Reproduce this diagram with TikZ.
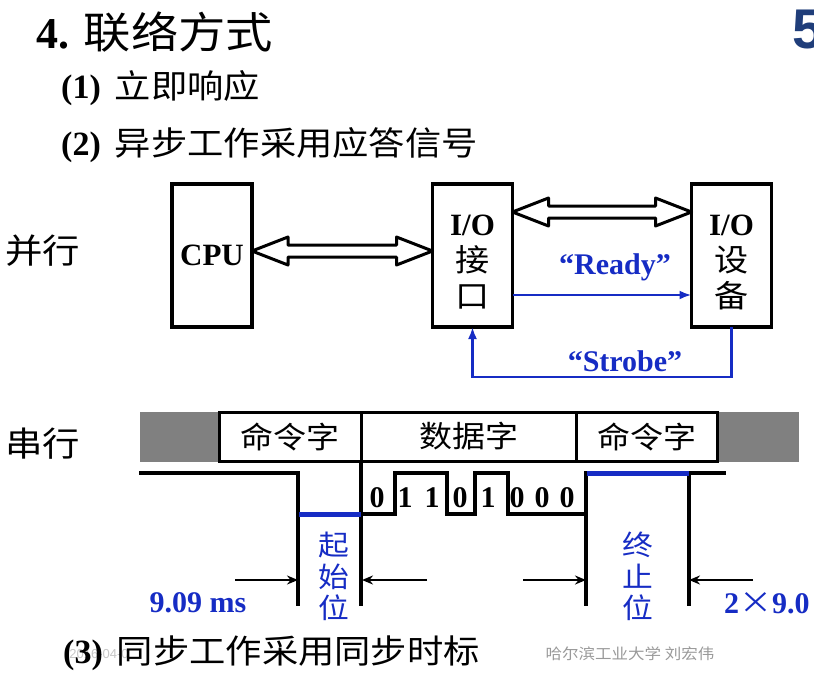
\documentclass[tikz,border=0pt]{standalone}
\usepackage{fontspec}
\setmainfont{Liberation Serif}
\newfontfamily\cjk[FakeStretch=1.1]{Noto Sans CJK SC}
\newfontfamily\numfont{Liberation Sans}
\usetikzlibrary{arrows.meta,calc,positioning}
\definecolor{sigblue}{RGB}{22,44,196}
\definecolor{bargray}{RGB}{128,128,128}
\definecolor{pageblue}{RGB}{32,62,122}
\newcommand{\fs}[2]{\fontsize{#1}{#2}\selectfont}
\newcommand{\zh}[1]{{\cjk\mdseries #1}}
% hollow two-way bus arrow between two anchors at height #3
\newcommand{\busarrow}[3]{%
  \draw[bus] let \p1=(#1 |- 0,#3), \p2=(#2 |- 0,#3) in
    (\p1) -- ++(36pt,14pt) -- ++(0,-8pt) -- (\x2-36pt,\y1+6pt) -- ++(0,8pt)
    -- (\p2) -- ++(-36pt,-14pt) -- ++(0,8pt) -- (\x1+36pt,\y1-6pt) -- ++(0,-8pt) -- cycle;}
\tikzset{
  head/.style={anchor=base west, inner sep=0pt},
  box/.style={draw, line width=3.4pt, minimum width=80pt, minimum height=143pt,
    inner sep=0pt, outer sep=0pt, align=center, font=\bfseries\fs{31}{35}},
  boxtxt/.style={align=center, inner sep=0pt, font=\bfseries\fs{31}{36}},
  bus/.style={draw, fill=white, line width=3pt, line join=round},
  sig/.style={-{Latex[length=12pt,width=9pt]}, line width=2.7pt, sigblue},
  sigtxt/.style={text=sigblue, font=\bfseries\fs{30}{30}, inner sep=0pt},
  word/.style={draw, fill=white, line width=3pt, minimum height=49pt,
    inner sep=0pt, outer sep=0pt, font=\cjk\fs{30}{30}},
  wave/.style={line width=3.2pt},
  bitbar/.style={line width=5pt, sigblue},
  bitnum/.style={font=\bfseries\fs{30}{30}, inner sep=0pt},
  dimn/.style={-{Stealth[length=11pt,width=9pt]}, line width=2.7pt},
  bitname/.style={text=sigblue, align=center, inner sep=0pt, font=\cjk\fs{28}{31.5}},
}
\begin{document}
\begin{tikzpicture}[x=1pt,y=-1pt]
  \useasboundingbox (0,0) rectangle (814,675);
  \clip (0,0) rectangle (814,675);
  % headings
  \node[head] (title) at (36,48) {\bfseries\fs{44}{44}4. \zh{\fs{43}{43}联络方式}};
  \node[head, text=pageblue] (pg) at (792,48) {\numfont\bfseries\fs{56}{56}5};
  \node[head] (h1) at (61,98) {\bfseries\fs{34}{34}(1)\hspace{14pt}\zh{\fs{33}{33}立即响应}};
  \node[head] (h2) at (61,155) {\bfseries\fs{34}{34}(2)\hspace{14pt}\zh{\fs{33}{33}异步工作采用应答信号}};
  \node[head] (par) at (5,263) {\zh{\fs{34}{34}并行}};
  \node[head] (ser) at (5,456) {\zh{\fs{34}{34}串行}};

  % parallel
  \node[box] (cpu) at (212,255.5) {CPU};
  \node[box] (ifc) at (472.5,255.5) {};
  \node[boxtxt] (ifctxt) at (472.5,262) {I/O\\\zh{接}\\\zh{口}};
  \node[box] (dev) at (731.5,255.5) {};
  \node[boxtxt] (devtxt) at (731.5,262) {I/O\\\zh{设}\\\zh{备}};
  \busarrow{cpu.east}{ifc.west}{251}
  \busarrow{ifc.east}{dev.west}{212}
  \coordinate (rdy) at (0,295);
  \draw[sig] (ifc.east |- rdy) -- (dev.west |- rdy);
  \node[sigtxt] (rdylbl) at (615,267) {“Ready”};
  \draw[sig] (dev.south) -- ++(0,50) -| (ifc.south);
  \node[sigtxt] (stblbl) at (625,361) {“Strobe”};

  % serial frame
  \draw[fill=bargray, draw=gray] (140,412) rectangle (798,461);
  \node[word, minimum width=142pt] (cmdA) at (290,436.5) {命令字};
  \node[word, minimum width=215pt, right=0pt of cmdA] (dat) {数据字};
  \node[word, minimum width=141pt, right=0pt of dat] (cmdB) {命令字};

  % waveform
  \draw[wave] (139,473) -| (298,606);
  \draw[wave] (cmdA.south east) -- ++(0,145);
  \draw[wave] (298,514) -- (361,514) -| (395,473) -| (447,514) -| (475,473)
    -| (508,514) -| (586,473) -- (726,473);
  \draw[wave] (586,473) -- (586,606);
  \draw[wave] (689,473) -- (689,606);
  \draw[bitbar] (299,514) -- (361,514);
  \draw[bitbar] (587,473) -- (689,473);
  \foreach \b/\x [count=\i] in {0/377,1/405,1/432,0/460,1/488,0/517,0/542,0/567}
    \node[bitnum] (bit\i) at (\x,498) {\b};

  % bit widths
  \coordinate (a1) at (235,580);
  \coordinate (a2) at (427,580);
  \coordinate (a3) at (523,580);
  \coordinate (a4) at (753,580);
  \draw[dimn] (a1) -- (298,580);
  \draw[dimn] (a2) -- (362,580);
  \draw[dimn] (a3) -- (586,580);
  \draw[dimn] (a4) -- (689,580);
  \node[bitname] (start) at (334,576.5) {起\\始\\位};
  \node[bitname] (stop) at (638,576.5) {终\\止\\位};
  \node[sigtxt, font=\bfseries\fs{30}{30}] (t1) at (198,603) {9.09 ms};
  \node[sigtxt, font=\bfseries\fs{30}{30}, anchor=west] (t2) at (724,603) {2\zh{×}9.0};

  % footer
  \node[text=gray!45, font=\numfont\fs{13}{13}, inner sep=0pt] (date) at (99,654) {2016-04-0};
  \node[head] (h3) at (63,663) {\bfseries\fs{34}{34}(3)\hspace{14pt}\zh{\fs{33}{33}同步工作采用同步时标}};
  \node[text=gray!80, font=\cjk\fs{15}{15}, inner sep=0pt] (mark) at (630,654) {哈尔滨工业大学\ 刘宏伟};
\end{tikzpicture}
\end{document}
